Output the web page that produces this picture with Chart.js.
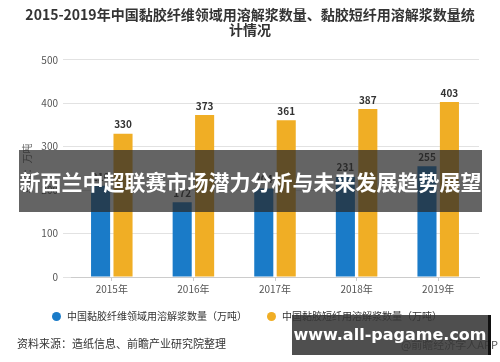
<!DOCTYPE html>
<html>
<head>
<meta charset="utf-8">
<script src="https://cdn.jsdelivr.net/npm/chart.js@4"></script>
<style>
  html, body { margin: 0; padding: 0; background: #fff; }
  #wrap { position: relative; width: 500px; height: 362px; overflow: hidden; font-family: "Noto Sans CJK SC", sans-serif; }
  #chart { position: absolute; left: 0; top: 0; }
  .legend { position: absolute; top: 309px; font-size: 10px; color: #333; line-height: 14px; white-space: nowrap; }
  .legend i { display: inline-block; width: 9px; height: 9px; border-radius: 50%; margin-right: 6px; vertical-align: -1px; }
  .source { position: absolute; left: 17px; top: 335px; font-size: 11px; color: #333; }
  .credit { position: absolute; right: 2px; top: 336px; font-size: 11px; color: #555; }
  .banner { position: absolute; left: 19px; top: 150px; width: 463px; height: 62px; background: rgba(40,40,40,0.72);
            color: #fff; font-weight: bold; font-size: 21px; line-height: 62px; text-align: center; }
  .mark { position: absolute; left: 292px; top: 315px; width: 196px; height: 40px; background: rgba(55,55,55,0.88);
          border-right: 3px solid #111; color: #fff; font-weight: bold; font-size: 16px; line-height: 40px; text-align: center;
          font-family: "DejaVu Sans", sans-serif; }
</style>
</head>
<body>
<div id="wrap">
  <canvas id="chart" width="500" height="362"></canvas>
  <div class="legend" style="left:52px"><i style="background:#1a7bc8"></i>中国黏胶纤维领域用溶解浆数量（万吨）</div>
  <div class="legend" style="left:267px"><i style="background:#f0ae25"></i>中国黏胶短纤用溶解浆数量（万吨）</div>
  <div class="source">资料来源：造纸信息、前瞻产业研究院整理</div>
  <div class="credit">@前瞻经济学人APP</div>
  <div class="banner">新西兰中超联赛市场潜力分析与未来发展趋势展望</div>
  <div class="mark">www.all-pagame.com</div>
</div>
<script>
const years = ["2015年", "2016年", "2017年", "2018年", "2019年"];
const fiberValues = [210, 172, 204, 231, 255];
const staplValues = [330, 373, 361, 387, 403];
const yTicks = [0, 100, 200, 300, 400, 500];

const FONT = "'Noto Sans CJK SC', sans-serif";

// values above bars
const barLabels = {
  id: "barLabels",
  afterDatasetsDraw(chart) {
    const ctx = chart.ctx;
    ctx.save();
    ctx.font = "bold 10px " + FONT;
    ctx.fillStyle = "#333";
    ctx.textAlign = "center";
    ctx.textBaseline = "bottom";
    chart.data.datasets.forEach((ds, i) => {
      chart.getDatasetMeta(i).data.forEach((bar, j) => {
        ctx.fillText(ds.data[j], bar.x, bar.y - 4);
      });
    });
    ctx.restore();
  }
};

new Chart(document.getElementById("chart"), {
  type: "bar",
  data: {
    labels: years,
    datasets: [
      {
        label: "中国黏胶纤维领域用溶解浆数量（万吨）",
        data: fiberValues,
        backgroundColor: "#1a7bc8"
      },
      {
        label: "中国黏胶短纤用溶解浆数量（万吨）",
        data: staplValues,
        backgroundColor: "#f0ae25"
      }
    ]
  },
  options: {
    responsive: false,
    animation: false,
    layout: { padding: { left: 21, right: 21, top: 0, bottom: 65 } },
    datasets: { bar: { categoryPercentage: 0.55, barPercentage: 0.85 } },
    plugins: {
      title: {
        display: true,
        text: ["2015-2019年中国黏胶纤维领域用溶解浆数量、黏胶短纤用溶解浆数量统", "计情况"],
        color: "#333",
        font: { family: FONT, size: 14, weight: "bold", lineHeight: 1.1 },
        padding: { top: 7, bottom: 22 }
      },
      legend: { display: false },
      tooltip: { enabled: false }
    },
    scales: {
      x: {
        grid: { display: true, drawOnChartArea: false, offset: false, tickLength: 4, color: "#ccc" },
        border: { color: "#ccc" },
        ticks: { color: "#555", font: { family: FONT, size: 10 }, padding: 2 }
      },
      y: {
        min: 0,
        max: 500,
        afterBuildTicks(scale) { scale.ticks = yTicks.map(v => ({ value: v })); },
        afterFit(scale) { scale.width = 50; },
        grid: { color: "#e2e2e2", tickLength: 8 },
        border: { display: false },
        ticks: { color: "#555", font: { family: FONT, size: 10 }, padding: 5 },
        title: { display: true, text: "单位：万吨", color: "#666", font: { family: FONT, size: 10 }, padding: 0 }
      }
    }
  },
  plugins: [barLabels]
});
</script>
</body>
</html>
